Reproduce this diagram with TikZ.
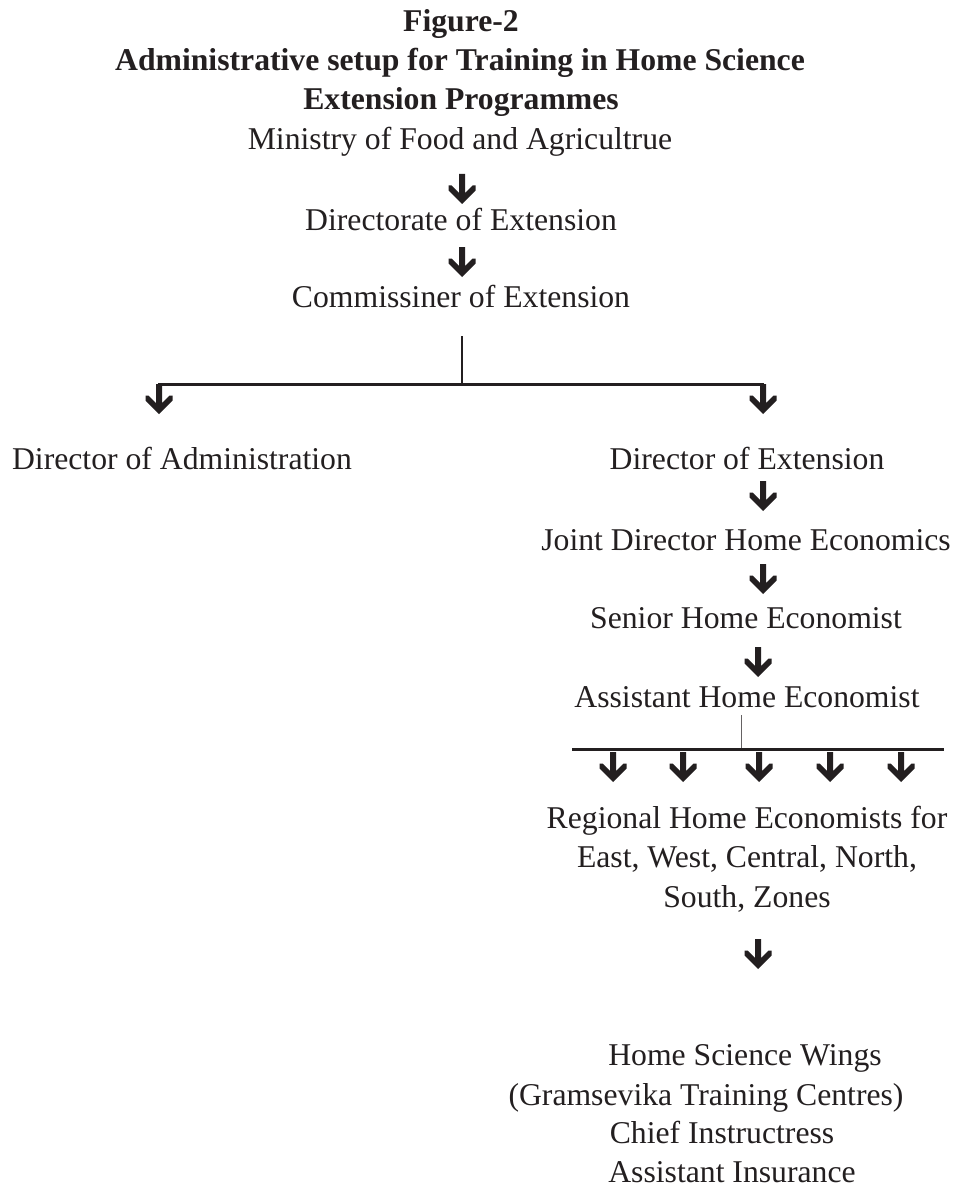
\documentclass[tikz,border=0pt]{standalone}
\usepackage{fontspec}
\setmainfont{Liberation Serif}
\definecolor{ink}{HTML}{231F20}
\tikzset{
  txt/.style={anchor=base, inner sep=0pt, text=ink, font=\fontsize{31.7}{39.5}\selectfont},
  ttl/.style={anchor=base, inner sep=0pt, text=ink, font=\fontsize{31.7}{39.5}\selectfont\bfseries},
  darrow/.pic={\fill[ink] (-3,0) -- (3,0) -- (3,19) -- (10.5,11.5) -- (13.5,11.5) -- (13.5,16.5) -- (0,30) -- (-13.5,16.5) -- (-13.5,11.5) -- (-10.5,11.5) -- (-3,19) -- cycle;},
  bar/.style={draw=ink, line width=3pt},
  stem/.style={draw=ink, line width=1.5pt},
  thinstem/.style={draw=ink!70, line width=1pt},
}
\begin{document}
\begin{tikzpicture}[x=1pt,y=-1pt]
\fill[white] (0,0) rectangle (958,1190);
\useasboundingbox (0,0) rectangle (958,1190);
% titles
\node[ttl] (t1) at (461,32) {Figure-2};
\node[ttl] (t2) at (460,71) {Administrative setup for Training in Home Science};
\node[ttl] (t3) at (461,110) {Extension Programmes};
% main chain
\node[txt] (min) at (460,150) {Ministry of Food and Agricultrue};
\pic at (462,174) {darrow};
\node[txt] (dir) at (461,231) {Directorate of Extension};
\pic at (462,247) {darrow};
\node[txt] (com) at (461,307) {Commissiner of Extension};
% first branch
\coordinate (c1) at (462,336);
\coordinate (j1) at (462,384);
\coordinate (bl) at (158,384);
\coordinate (br) at (764,384);
\draw[stem] (c1) -- (j1);
\draw[bar] (bl) -- (br);
\pic at (159,384) {darrow};
\pic at (763,384) {darrow};
\node[txt] (adm) at (182,469) {Director of Administration};
\node[txt] (ext) at (747,469) {Director of Extension};
\pic at (763,481) {darrow};
\node[txt] (jd) at (746,550) {Joint Director Home Economics};
\pic at (763,564) {darrow};
\node[txt] (she) at (746,628) {Senior Home Economist};
\pic at (758,647) {darrow};
\node[txt] (ahe) at (747,707) {Assistant Home Economist};
% second branch
\coordinate (c2) at (741,715);
\coordinate (j2) at (741,749);
\coordinate (bl2) at (572,749);
\coordinate (br2) at (944,749);
\draw[thinstem] (c2) -- (j2);
\draw[bar] (bl2) -- (br2);
\foreach \xx in {613,683,759,830,901} { \pic at (\xx,752) {darrow}; }
\node[txt] (r1) at (747,828) {Regional Home Economists for};
\node[txt] (r2) at (747,867) {East, West, Central, North,};
\node[txt] (r3) at (747,907) {South, Zones};
\pic at (758,939) {darrow};
% bottom block
\node[txt] (h1) at (745,1065) {Home Science Wings};
\node[txt] (h2) at (706,1105) {(Gramsevika Training Centres)};
\node[txt] (h3) at (722,1143) {Chief Instructress};
\node[txt] (h4) at (732,1182) {Assistant Insurance};
\end{tikzpicture}
\end{document}
